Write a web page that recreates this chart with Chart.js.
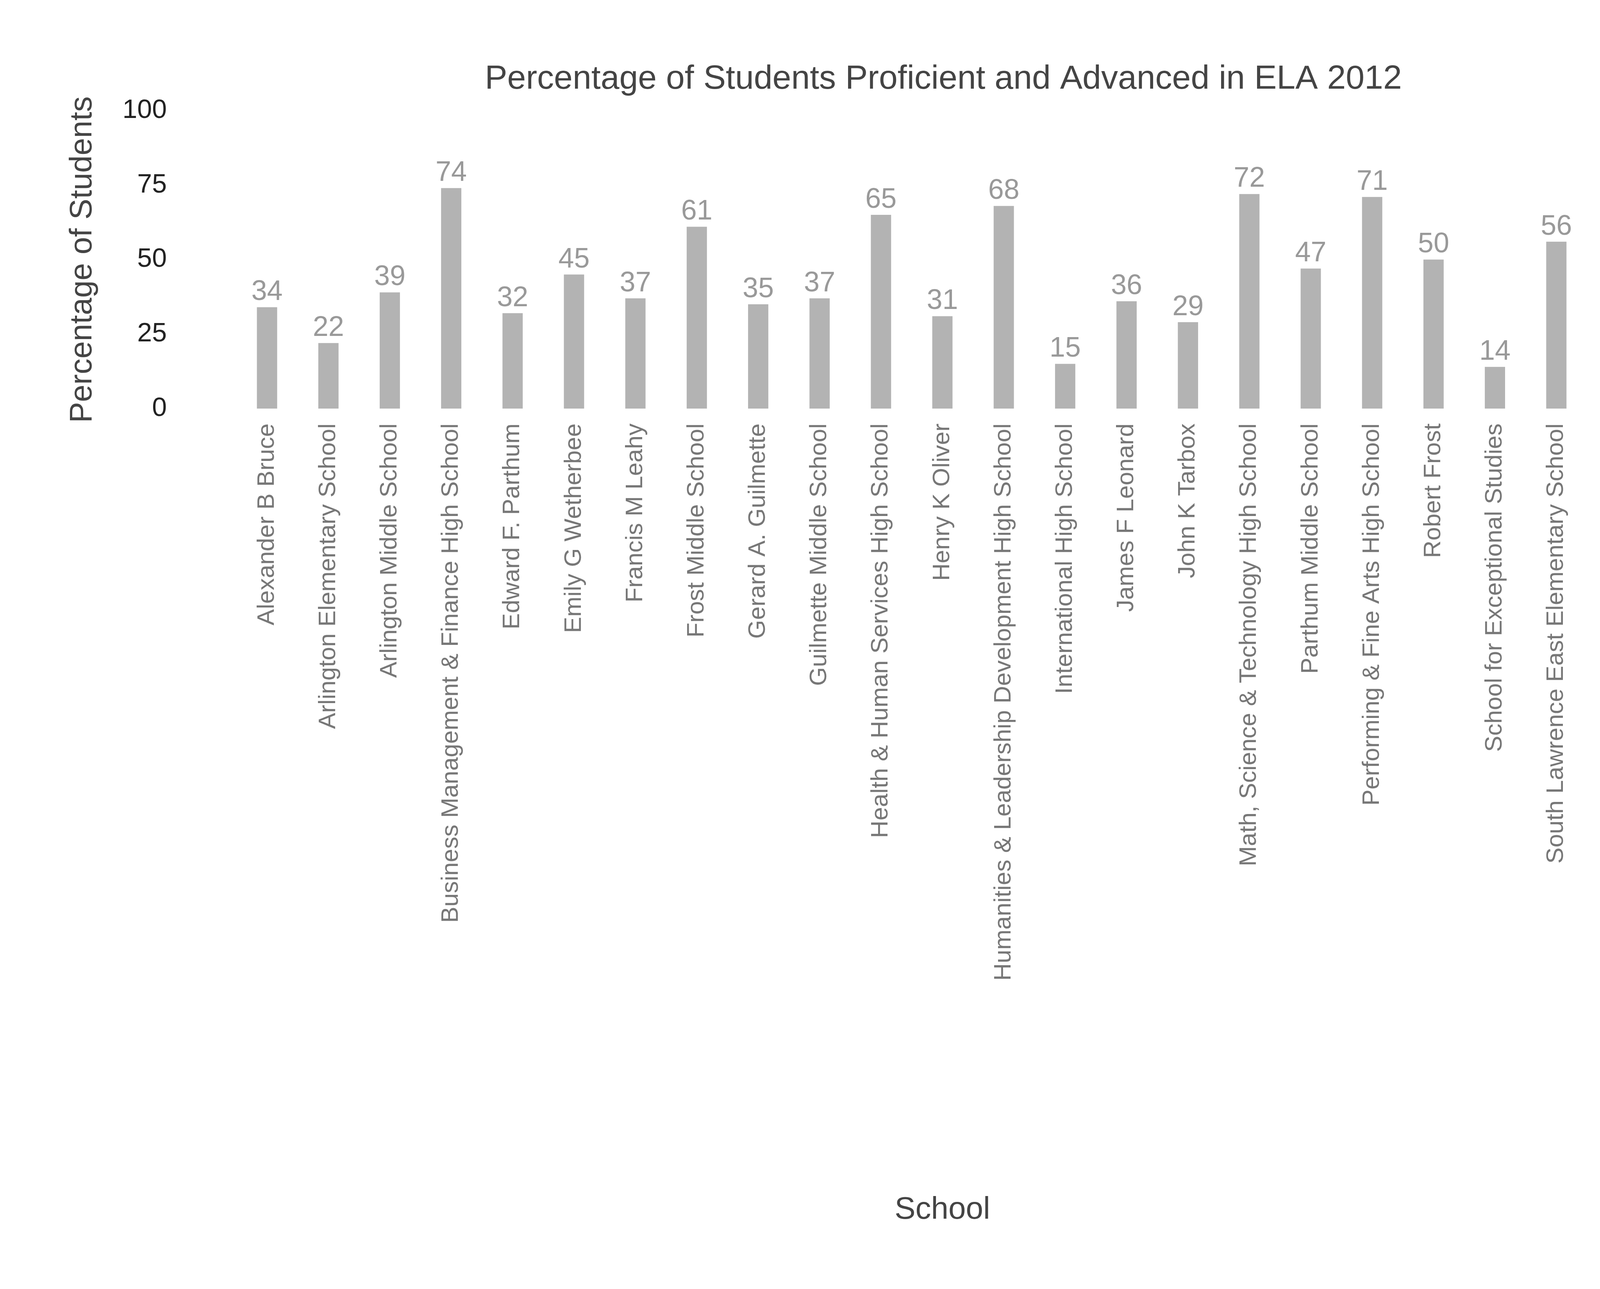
<!DOCTYPE html>
<html>
<head>
<meta charset="utf-8">
<script src="https://cdn.jsdelivr.net/npm/chart.js@4"></script>
<style>
  html, body { margin: 0; padding: 0; background: #fff; overflow: hidden; }
  #wrap { width: 4800px; height: 3300px; }
  #chart { width: 4800px; height: 3300px; display: block; }
</style>
</head>
<body>
<div id="wrap"><canvas id="chart" width="4800" height="3300"></canvas></div>
<script>
const schools = ['Alexander B Bruce', 'Arlington Elementary School', 'Arlington Middle School',
  'Business Management & Finance High School', 'Edward F. Parthum', 'Emily G Wetherbee',
  'Francis M Leahy', 'Frost Middle School', 'Gerard A. Guilmette', 'Guilmette Middle School',
  'Health & Human Services High School', 'Henry K Oliver',
  'Humanities & Leadership Development High School', 'International High School',
  'James F Leonard', 'John K Tarbox', 'Math, Science & Technology High School',
  'Parthum Middle School', 'Performing & Fine Arts High School', 'Robert Frost',
  'School for Exceptional Studies', 'South Lawrence East Elementary School',
  'South Lawrence East Middle School'];
const values2012 = [34, 22, 39, 74, 32, 45, 37, 61, 35, 37, 65, 31, 68, 15, 36, 29, 72, 47, 71, 50, 14, 56, 42];
const yTicks = [0, 25, 50, 75, 100];

const font = 'Liberation Sans, Arial, sans-serif';

const extras = {
  id: 'extras',
  afterDatasetsDraw(chart) {
    const ctx = chart.ctx;
    const meta = chart.getDatasetMeta(0);
    ctx.save();
    ctx.fillStyle = '#999999';
    ctx.font = '72px ' + font;
    ctx.textAlign = 'center';
    ctx.textBaseline = 'bottom';
    meta.data.forEach((bar, i) => {
      ctx.fillText(String(values2012[i]), bar.x, bar.y - 2);
    });
    // title
    ctx.fillStyle = '#444444';
    ctx.font = '86px ' + font;
    ctx.textBaseline = 'middle';
    ctx.fillText('Percentage of Students Proficient and Advanced in ELA 2012', 2415, 203);
    // legend
    ctx.fillStyle = '#b3b3b3';
    ctx.fillRect(4302, 363, 166, 58);
    ctx.fillStyle = '#222222';
    ctx.font = '72px ' + font;
    ctx.textAlign = 'left';
    ctx.fillText('2012', 4535, 393);
    ctx.restore();
  }
};

new Chart(document.getElementById('chart'), {
  type: 'bar',
  data: {
    labels: schools,
    datasets: [{
      label: '2012',
      data: values2012,
      backgroundColor: '#b3b3b3',
      barPercentage: 0.33,
      categoryPercentage: 1
    }]
  },
  options: {
    responsive: false,
    devicePixelRatio: 1,
    animation: false,
    layout: { padding: { top: 283, right: 580, bottom: 150, left: 160 } },
    plugins: { legend: { display: false }, title: { display: false }, tooltip: { enabled: false } },
    scales: {
      x: {
        grid: { display: false },
        border: { display: false },
        afterFit(s) { s.height = 2104; },
        ticks: {
          minRotation: 90, maxRotation: 90, autoSkip: false, padding: 30,
          color: '#777777', font: { family: font, size: 62 }
        },
        title: { display: true, text: 'School', color: '#444444', font: { family: font, size: 80 } }
      },
      y: {
        min: 0, max: 100,
        afterBuildTicks(s) { s.ticks = yTicks.map(v => ({ value: v })); },
        afterFit(s) { s.width = 445; },
        grid: { display: false },
        border: { display: false },
        ticks: { padding: 170, color: '#222222', font: { family: font, size: 68 } },
        title: { display: true, text: 'Percentage of Students', color: '#444444', font: { family: font, size: 80 } }
      }
    }
  },
  plugins: [extras]
});
</script>
</body>
</html>
